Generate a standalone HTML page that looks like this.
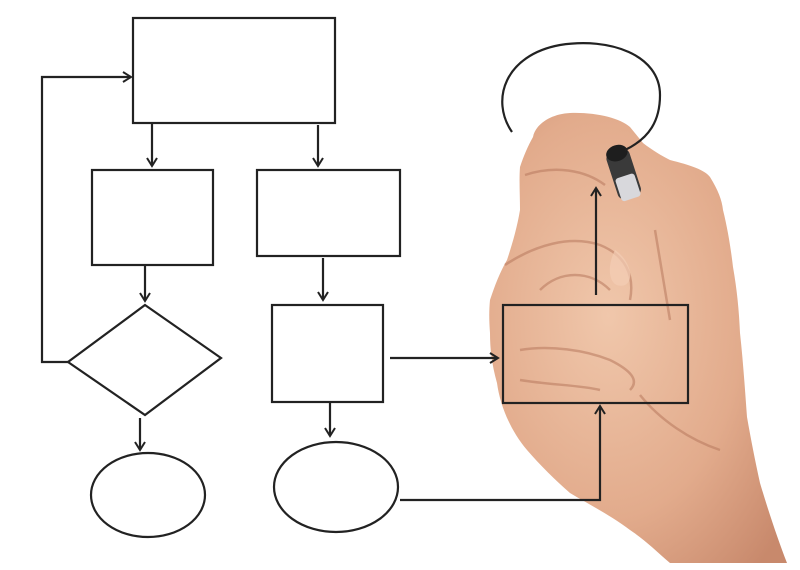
<!DOCTYPE html>
<html><head><style>html,body{margin:0;padding:0;background:#fff;width:800px;height:570px;overflow:hidden}</style></head>
<body>
<svg width="800" height="570" viewBox="0 0 800 570" xmlns="http://www.w3.org/2000/svg">
<defs>
<marker id="a" markerWidth="12" markerHeight="12" refX="9" refY="6" orient="auto" markerUnits="userSpaceOnUse">
<path d="M1,1 L9,6 L1,11" fill="none" stroke="#222" stroke-width="2"/>
</marker>
<radialGradient id="sk" cx="0.4" cy="0.45" r="0.75">
<stop offset="0" stop-color="#f0c7ab"/><stop offset="0.6" stop-color="#e2ab8c"/><stop offset="1" stop-color="#c8896c"/>
</radialGradient>
</defs>
<!-- hand -->
<path d="M533,137 C535,125 550,114 570,113 C595,112 620,118 630,127 L643,143 C652,150 662,156 670,160 C690,165 705,170 710,177 C718,190 722,200 723,210 C728,230 731,250 733,267 C737,290 739,310 740,333 C743,360 745,390 747,417 C751,440 755,460 760,483 C768,510 778,540 787,563 L670,563 C655,550 645,540 630,530 C610,515 590,505 570,493 C555,480 540,465 527,450 C510,430 500,405 497,383 C492,365 490,350 490,333 C489,320 489,310 490,300 C495,285 500,272 507,260 C512,245 517,228 520,210 C520,195 519,180 520,167 C524,155 528,146 533,137 Z" fill="url(#sk)"/>
<g fill="none" stroke="#b8795e" stroke-width="2.5" opacity="0.55">
<path d="M525,175 C555,165 585,170 605,185"/>
<path d="M505,265 C535,245 570,235 600,245 C625,255 635,275 630,300"/>
<path d="M540,290 C560,270 590,270 610,290"/>
<path d="M520,350 C550,345 585,350 610,360 C630,370 640,380 630,390"/>
<path d="M520,380 C550,385 580,385 600,390"/>
<path d="M655,230 C660,260 665,290 670,320 M640,395 C660,420 690,440 720,450"/>
</g>
<path d="M615,250 C630,260 635,280 625,285 C610,290 605,270 615,250 Z" fill="#f3cdb5" opacity="0.7"/>
<!-- marker -->
<g transform="rotate(-18 624 175)">
<rect x="612" y="150" width="24" height="48" rx="6" fill="#3a3a3a"/>
<rect x="614" y="176" width="20" height="24" rx="3" fill="#d8d8dc"/>
<ellipse cx="624" cy="152" rx="11" ry="8" fill="#1e1e1e"/>
</g>
<g fill="none" stroke="#222" stroke-width="2.2">
<rect x="133" y="18" width="202" height="105"/>
<polyline points="68,362 42,362 42,77 131,77" marker-end="url(#a)"/>
<line x1="152" y1="123" x2="152" y2="166" marker-end="url(#a)"/>
<rect x="92" y="170" width="121" height="95"/>
<line x1="318" y1="125" x2="318" y2="166" marker-end="url(#a)"/>
<rect x="257" y="170" width="143" height="86"/>
<line x1="145" y1="265" x2="145" y2="301" marker-end="url(#a)"/>
<polygon points="145,305 221,358 145,415 68,362"/>
<line x1="140" y1="418" x2="140" y2="450" marker-end="url(#a)"/>
<ellipse cx="148" cy="495" rx="57" ry="42"/>
<line x1="323" y1="258" x2="323" y2="300" marker-end="url(#a)"/>
<rect x="272" y="305" width="111" height="97"/>
<line x1="330" y1="402" x2="330" y2="436" marker-end="url(#a)"/>
<ellipse cx="336" cy="487" rx="62" ry="45"/>
<line x1="390" y1="358" x2="498" y2="358" marker-end="url(#a)"/>
<rect x="503" y="305" width="185" height="98"/>
<polyline points="400,500 600,500 600,406" marker-end="url(#a)"/>
<line x1="596" y1="295" x2="596" y2="188" marker-end="url(#a)"/>
<path d="M512,132 C490,100 505,55 560,45 C610,37 660,55 660,95 C660,120 650,138 625,150"/>
</g>
</svg>
</body></html>
